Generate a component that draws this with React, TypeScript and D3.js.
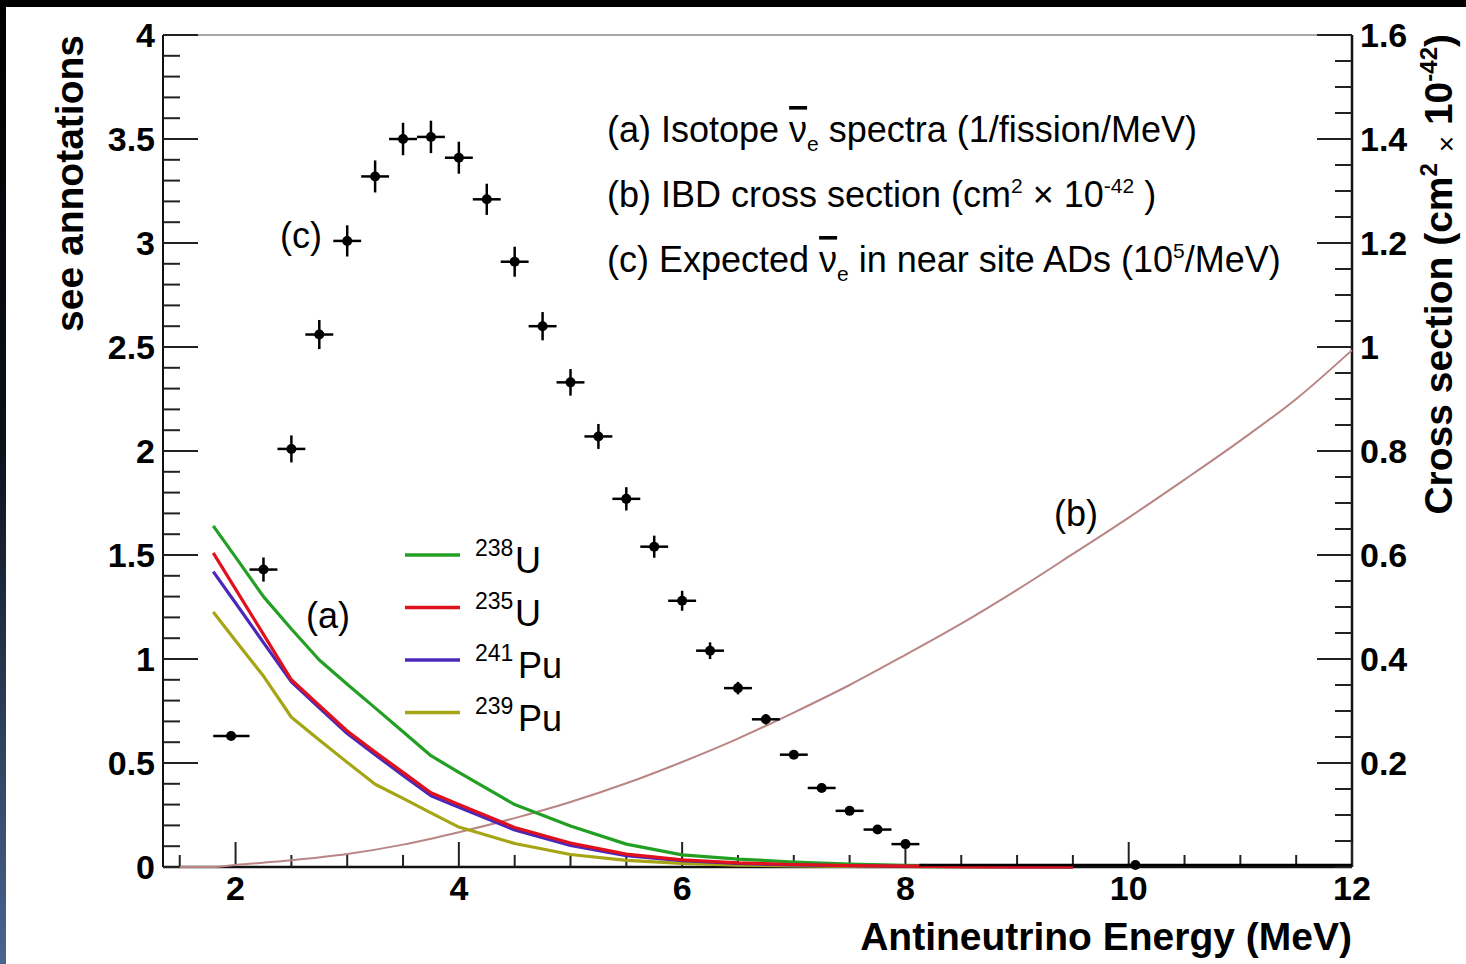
import React from "react";
import * as d3 from "d3";

// ---------- data ----------
// (c) expected antineutrino counts in near-site ADs (10^5/MeV)
const binLow = [1.8, 2.125, 2.375, 2.625, 2.875, 3.125, 3.375, 3.625, 3.875, 4.125, 4.375, 4.625, 4.875, 5.125, 5.375, 5.625, 5.875, 6.125, 6.375, 6.625, 6.875, 7.125, 7.375, 7.625, 7.875, 8.125];
const binHigh = [2.125, 2.375, 2.625, 2.875, 3.125, 3.375, 3.625, 3.875, 4.125, 4.375, 4.625, 4.875, 5.125, 5.375, 5.625, 5.875, 6.125, 6.375, 6.625, 6.875, 7.125, 7.375, 7.625, 7.875, 8.125, 12.0];
const binCenter = [1.96, 2.25, 2.5, 2.75, 3.0, 3.25, 3.5, 3.75, 4.0, 4.25, 4.5, 4.75, 5.0, 5.25, 5.5, 5.75, 6.0, 6.25, 6.5, 6.75, 7.0, 7.25, 7.5, 7.75, 8.0, 10.06];
const expected = [0.63, 1.43, 2.01, 2.56, 3.01, 3.32, 3.5, 3.51, 3.41, 3.21, 2.91, 2.6, 2.33, 2.07, 1.77, 1.54, 1.28, 1.04, 0.86, 0.71, 0.54, 0.38, 0.27, 0.18, 0.11, 0.01];
const expectedErr = [0.02, 0.058, 0.065, 0.07, 0.075, 0.077, 0.078, 0.078, 0.077, 0.075, 0.072, 0.068, 0.064, 0.06, 0.056, 0.053, 0.048, 0.04, 0.03, 0.025, 0.02, 0.015, 0.012, 0.01, 0.008, 0.002];

// (a) isotope spectra (1/fission/MeV)
const isoE = [1.8, 2.0, 2.25, 2.5, 2.75, 3.0, 3.25, 3.5, 3.75, 4.0, 4.5, 5.0, 5.5, 6.0, 6.5, 7.0, 7.5, 8.0, 8.5, 9.0, 9.5];
const u238 = [1.64, 1.49, 1.3, 1.144, 0.995, 0.879, 0.765, 0.65, 0.535, 0.455, 0.3, 0.197, 0.11, 0.058, 0.038, 0.024, 0.014, 0.008, 0.005, 0.003, 0.001];
const u235 = [1.51, 1.336, 1.118, 0.9, 0.777, 0.654, 0.553, 0.455, 0.357, 0.301, 0.19, 0.115, 0.062, 0.034, 0.02, 0.012, 0.007, 0.004, 0.002, 0.001, 0.0];
const pu241 = [1.42, 1.269, 1.079, 0.89, 0.765, 0.642, 0.54, 0.44, 0.343, 0.287, 0.178, 0.104, 0.055, 0.03, 0.017, 0.01, 0.006, 0.003, 0.0015, 0.0008, 0.0];
const pu239 = [1.226, 1.088, 0.918, 0.72, 0.611, 0.503, 0.398, 0.33, 0.26, 0.192, 0.113, 0.06, 0.032, 0.017, 0.009, 0.005, 0.003, 0.002, 0.001, 0.0005, 0.0];

// (b) IBD cross section (cm^2 x 10^-42), right axis
const xsE = [1.5, 1.8, 2.0, 2.5, 3.0, 3.5, 4.0, 4.5, 5.0, 5.5, 6.0, 6.5, 7.0, 7.5, 8.0, 8.5, 9.0, 9.5, 10.0, 10.5, 11.0, 11.5, 12.0];
const xsVal = [0, 0, 0.004, 0.013, 0.025, 0.043, 0.067, 0.094, 0.125, 0.161, 0.202, 0.247, 0.297, 0.35, 0.408, 0.468, 0.533, 0.602, 0.672, 0.745, 0.82, 0.9, 0.994];

// legend
const legendSup = ["238", "235", "241", "239"];
const legendName = ["U", "U", "Pu", "Pu"];
const legendColor = ["#23a023", "#e0101c", "#4a28b8", "#a5a515"];
const isoSeries = [u238, u235, pu241, pu239];
const drawOrder = [3, 0, 2, 1];

// ticks
const xTickValues = [2, 4, 6, 8, 10, 12];
const xTickLabels = ["2", "4", "6", "8", "10", "12"];
const yLeftTickValues = [0, 0.5, 1, 1.5, 2, 2.5, 3, 3.5, 4];
const yLeftTickLabels = ["0", "0.5", "1", "1.5", "2", "2.5", "3", "3.5", "4"];
const yRightTickValues = [0.2, 0.4, 0.6, 0.8, 1.0, 1.2, 1.4, 1.6];
const yRightTickLabels = ["0.2", "0.4", "0.6", "0.8", "1", "1.2", "1.4", "1.6"];

const FONT = "'Liberation Sans', Arial, Helvetica, sans-serif";

export default function App() {
  const W = 1466, H = 964;
  const L = 163, R = 1352, T = 35, B = 867;
  const x = d3.scaleLinear().domain([1.35, 12]).range([L, R]);
  const yL = d3.scaleLinear().domain([0, 4]).range([B, T]);
  const yR = d3.scaleLinear().domain([0, 1.6]).range([B, T]);

  const isoLine = (vals: number[]) =>
    d3.line<number>().x((_, i) => x(isoE[i])).y((v) => yL(v))(vals) || "";
  const xsLine =
    d3.line<number>().x((_, i) => x(xsE[i])).y((v) => yR(v)).curve(d3.curveMonotoneX)(xsVal) || "";

  const xMinor = d3.range(1.5, 12.001, 0.5).filter((v) => Math.abs(v / 2 - Math.round(v / 2)) > 1e-6);
  const yLMinor = d3.range(0, 4.0001, 0.1);
  const yRMinor = d3.range(0, 1.6001, 0.05);

  const tickFont = { fontFamily: FONT, fontWeight: 700, fontSize: 34, fill: "#000" } as const;
  const annFont = { fontFamily: FONT, fontSize: 36, fill: "#000" } as const;
  const nuBar = { textDecoration: "overline" } as const;

  return (
    <svg width={W} height={H} style={{ position: "absolute", left: 0, top: 0, background: "#fff" }}>
      <defs>
        <linearGradient id="edge" x1="0" y1="0" x2="0" y2="1">
          <stop offset="0" stopColor="#000" />
          <stop offset="0.45" stopColor="#0b1019" />
          <stop offset="1" stopColor="#4a6590" />
        </linearGradient>
      </defs>
      <rect x={0} y={0} width={W} height={H} fill="#fff" />
      <rect x={0} y={0} width={W} height={7} fill="#000" />
      <rect x={0} y={0} width={6} height={H} fill="url(#edge)" />

      {/* frame */}
      <line x1={L} y1={T} x2={R} y2={T} stroke="#8a8a8a" strokeWidth={1.5} />
      <line x1={L} y1={T} x2={L} y2={B} stroke="#111" strokeWidth={2} />
      <line x1={R} y1={T} x2={R} y2={B} stroke="#111" strokeWidth={2.5} />
      <line x1={L} y1={B} x2={R} y2={B} stroke="#111" strokeWidth={2.5} />

      {/* left ticks */}
      {yLMinor.map((v, i) => (
        <line key={"lm" + i} x1={L} x2={L + 17} y1={yL(v)} y2={yL(v)} stroke="#222" strokeWidth={2} />
      ))}
      {yLeftTickValues.map((v, i) => (
        <line key={"lM" + i} x1={L} x2={L + 35} y1={yL(v)} y2={yL(v)} stroke="#222" strokeWidth={2} />
      ))}
      {yLeftTickValues.map((v, i) => (
        <text key={"lt" + i} x={155} y={yL(v) + 12} textAnchor="end" style={tickFont}>
          {yLeftTickLabels[i]}
        </text>
      ))}

      {/* right ticks */}
      {yRMinor.map((v, i) => (
        <line key={"rm" + i} x1={R - 17} x2={R} y1={yR(v)} y2={yR(v)} stroke="#222" strokeWidth={2} />
      ))}
      {yRightTickValues.map((v, i) => (
        <line key={"rM" + i} x1={R - 35} x2={R} y1={yR(v)} y2={yR(v)} stroke="#222" strokeWidth={2} />
      ))}
      {yRightTickValues.map((v, i) => (
        <text key={"rt" + i} x={1360} y={yR(v) + 12} textAnchor="start" style={tickFont}>
          {yRightTickLabels[i]}
        </text>
      ))}

      {/* bottom ticks */}
      {xMinor.map((v, i) => (
        <line key={"xm" + i} x1={x(v)} x2={x(v)} y1={B} y2={B - 12} stroke="#222" strokeWidth={2} />
      ))}
      {xTickValues.map((v, i) => (
        <line key={"xM" + i} x1={x(v)} x2={x(v)} y1={B} y2={B - 25} stroke="#222" strokeWidth={2} />
      ))}
      {xTickValues.map((v, i) => (
        <text key={"xt" + i} x={x(v)} y={900} textAnchor="middle" style={tickFont}>
          {xTickLabels[i]}
        </text>
      ))}

      {/* axis titles */}
      <text x={R} y={950} textAnchor="end" style={{ fontFamily: FONT, fontWeight: 700, fontSize: 39 }}>
        Antineutrino Energy (MeV)
      </text>
      <text transform="translate(83,35) rotate(-90)" textAnchor="end" style={{ fontFamily: FONT, fontWeight: 700, fontSize: 39 }}>
        see annotations
      </text>
      <text transform="translate(1452,34) rotate(-90)" textAnchor="end" style={{ fontFamily: FONT, fontWeight: 700, fontSize: 39 }}>
        Cross section (cm
        <tspan fontSize={24} dy={-15}>2</tspan>
        <tspan dy={15}>{"  "}</tspan>
        <tspan fontSize={28} fontWeight={400} dy={4}>×</tspan>
        <tspan dy={-4}>{" 10"}</tspan>
        <tspan fontSize={24} dy={-15}>-42</tspan>
        <tspan dy={15}>)</tspan>
      </text>

      {/* (b) cross section */}
      <path d={xsLine} fill="none" stroke="#b98585" strokeWidth={2} />

      {/* (a) isotope spectra */}
      {drawOrder.map((i) => (
        <path key={"iso" + i} d={isoLine(isoSeries[i])} fill="none" stroke={legendColor[i]} strokeWidth={3.2} strokeLinejoin="round" />
      ))}

      {/* (c) data points */}
      {expected.map((v, i) => (
        <g key={"pt" + i}>
          <line x1={x(binLow[i])} x2={x(binHigh[i])} y1={yL(v)} y2={yL(v)} stroke="#000" strokeWidth={2.5} />
          <line x1={x(binCenter[i])} x2={x(binCenter[i])} y1={yL(v - expectedErr[i])} y2={yL(v + expectedErr[i])} stroke="#000" strokeWidth={2.5} />
          <circle cx={x(binCenter[i])} cy={yL(v)} r={5} fill="#000" />
        </g>
      ))}

      {/* legend */}
      {legendSup.map((s, i) => {
        const ly = 555 + i * 52.5;
        return (
          <g key={"lg" + i}>
            <line x1={405} x2={460} y1={ly} y2={ly} stroke={legendColor[i]} strokeWidth={3.5} />
            <text x={475} y={ly + 1} style={{ fontFamily: FONT, fontSize: 23, fill: "#000" }}>{s}</text>
            <text x={legendName[i] === "U" ? 515 : 518} y={ly + 18} style={{ fontFamily: FONT, fontSize: 36, fill: "#000" }}>
              {legendName[i]}
            </text>
          </g>
        );
      })}

      {/* annotations */}
      <text x={607} y={142} style={annFont}>
        {"(a) Isotope "}
        <tspan style={nuBar}>ν</tspan>
        <tspan fontSize={21} dy={9}>e</tspan>
        <tspan dy={-9}> spectra (1/fission/MeV)</tspan>
      </text>
      <text x={607} y={207} style={annFont}>
        (b) IBD cross section (cm<tspan fontSize={21} dy={-14}>2</tspan>
        <tspan dy={14}>{"  × 10"}</tspan>
        <tspan fontSize={21} dy={-14}>-42</tspan>
        <tspan dy={14}>{"  )"}</tspan>
      </text>
      <text x={607} y={272} style={annFont}>
        {"(c) Expected "}
        <tspan style={nuBar}>ν</tspan>
        <tspan fontSize={21} dy={9}>e</tspan>
        <tspan dy={-9}> in near site ADs (10</tspan>
        <tspan fontSize={21} dy={-14}>5</tspan>
        <tspan dy={14}>/MeV)</tspan>
      </text>
      <text x={280} y={248} style={annFont}>(c)</text>
      <text x={306} y={628} style={annFont}>(a)</text>
      <text x={1054} y={526} style={annFont}>(b)</text>
    </svg>
  );
}
